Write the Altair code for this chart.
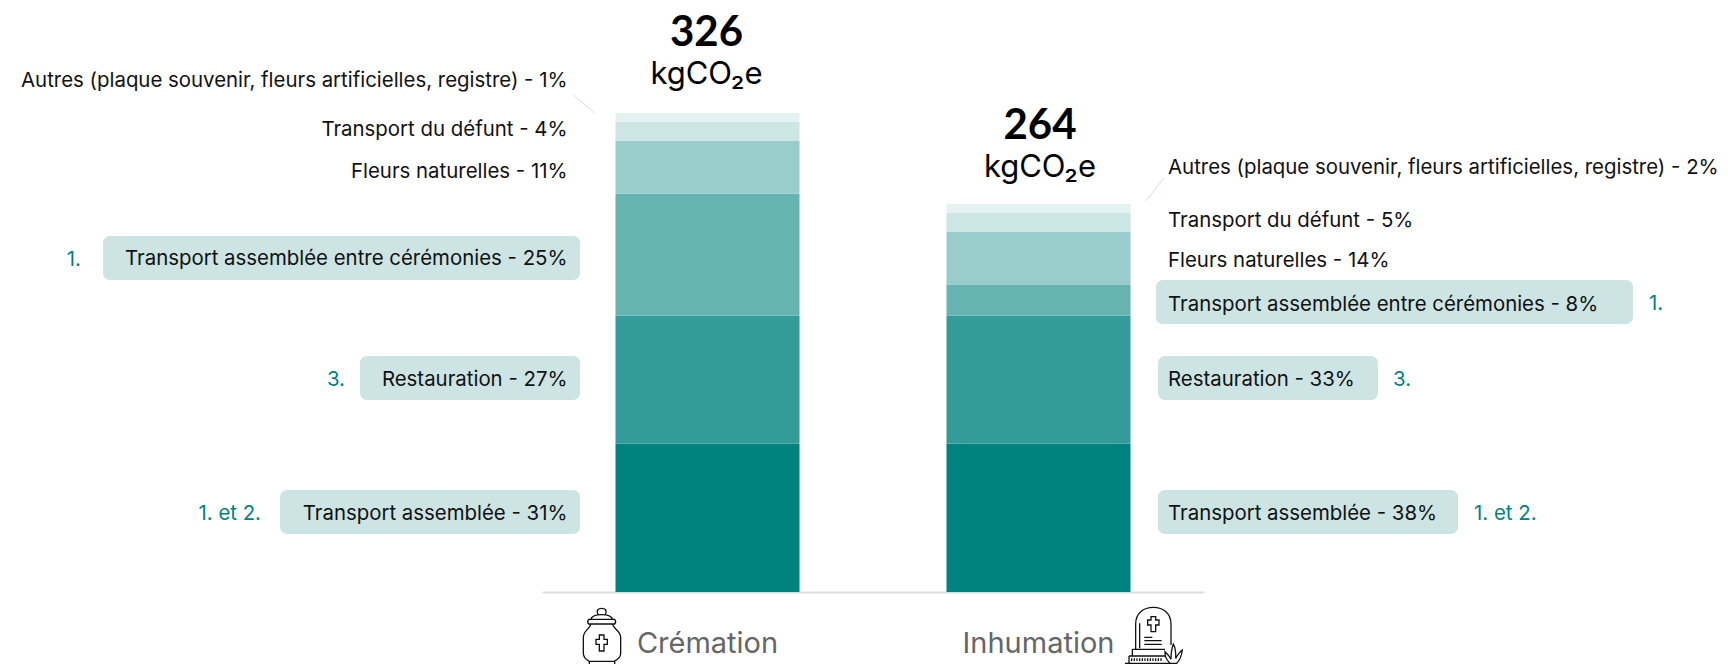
import altair as alt
import pandas as pd

# ---- data ----
methods = ["Crémation", "Inhumation"]
categories = ["Transport assemblée", "Restauration", "Transport assemblée entre cérémonies",
              "Fleurs naturelles", "Transport du défunt", "Autres"]
cremation = [101, 87, 83, 36, 13, 6]
inhumation = [101, 87, 21, 36, 13, 6]
colors = ["#00827F", "#339B99", "#66B4B2", "#99CDCB", "#CCE6E5", "#E5F2F2"]
totals = ["326", "264"]
unit = "kgCO₂e"

left_labels = ["Autres (plaque souvenir, fleurs artificielles, registre) - 1%", "Transport du défunt - 4%",
               "Fleurs naturelles - 11%", "Transport assemblée entre cérémonies - 25%",
               "Restauration - 27%", "Transport assemblée - 31%"]
right_labels = ["Autres (plaque souvenir, fleurs artificielles, registre) - 2%", "Transport du défunt - 5%",
                "Fleurs naturelles - 14%", "Transport assemblée entre cérémonies - 8%",
                "Restauration - 33%", "Transport assemblée - 38%"]
left_label_y = [81, 130, 172, 259, 380, 514]
right_label_y = [168, 221, 261, 305, 380, 514]
pills = [[103, 580, 236, 280], [360, 580, 356, 400], [280, 580, 490, 534],
         [1156, 1633, 280, 324], [1158, 1378, 356, 400], [1158, 1458, 490, 534]]
notes = [["1.", 81, 260, "right"], ["3.", 345, 380, "right"], ["1. et 2.", 261, 514, "right"],
         ["1.", 1649, 304, "left"], ["3.", 1393, 380, "left"], ["1. et 2.", 1474, 514, "left"]]

URN = ("M84 44 C78 30 85 25 95 25 C105 25 112 30 106 44 "
       "M62 58 C66 48 80 44 95 44 C110 44 124 48 128 58 "
       "M56 58 L134 58 Q140 65 134 72 L56 72 Q50 65 56 58 Z "
       "M62 72 C62 85 40 92 40 112 L40 160 C40 172 50 180 58 184 L132 184 C142 180 152 172 152 160 "
       "L152 112 C152 92 128 85 128 72 "
       "M58 184 L58 192 M134 184 L134 192 "
       "M88 105 L102 105 L102 118 L112 118 L112 133 L102 133 L102 153 L88 153 L88 133 L78 133 L78 118 L88 118 Z")
GRAVE = ("M62 148 L62 72 C62 40 85 22 115 22 C145 22 168 40 168 72 L168 135 "
         "M74 70 L74 145 "
         "M108 50 L122 50 L122 60 L132 60 L132 75 L122 75 L122 95 L108 95 L108 75 L98 75 L98 60 L108 60 Z "
         "M88 112 L112 112 M88 122 L140 122 M88 133 L140 133 "
         "M52 148 L150 148 M52 148 L52 168 M42 168 L150 168 M42 168 L42 190 M30 190 L165 190 "
         "M50 175 L50 183 M58 175 L58 183 M66 175 L66 183 M74 175 L74 183 M82 175 L82 183 M90 175 L90 183 "
         "M98 175 L98 183 M106 175 L106 183 M114 175 L114 183 M122 175 L122 183 M130 175 L130 183 M138 175 L138 183 "
         "M165 190 C150 175 150 165 150 155 C160 165 165 170 168 178 C168 160 170 145 175 132 "
         "C182 145 183 160 182 175 C188 165 195 155 202 150 C200 165 195 180 185 190 Z")

M = 8
FONT = "Inter"
SIZE = 20.4
W, H = 1712, 584
TEAL = "#00827F"

rows = []
for m, vals in zip(methods, [cremation, inhumation]):
    base = 0
    for i, (c, v) in enumerate(zip(categories, vals)):
        rows.append({"method": m, "cat": c, "order": i, "y0": base, "y1": base + v})
        base += v
df = pd.DataFrame(rows)

x = alt.X("method:N", sort=methods,
          scale=alt.Scale(domain=methods, range=[542 - M, 1204 - M], paddingInner=0.444, paddingOuter=0.222),
          axis=alt.Axis(title=None, labelAngle=0, labelFont=FONT, labelFontSize=29, labelColor="#666666",
                        labelPadding=37, ticks=False, domainColor="#DDDDDD", domainWidth=2, grid=False))
y = alt.Y("y0:Q", scale=alt.Scale(domain=[0, 326], range=[592 - M, 113 - M]), axis=None)

bars = alt.Chart(df).mark_bar().encode(
    x=x, y=y, y2="y1:Q",
    color=alt.Color("cat:N", sort=categories, scale=alt.Scale(domain=categories, range=colors), legend=None),
)

layers = [bars]
one = pd.DataFrame({"a": [0]})

for x0, x1, y0, y1 in pills:
    layers.append(alt.Chart(one).mark_bar(color="#CCE5E4", cornerRadius=7).encode(
        x=alt.value(x0 - M), x2=alt.value(x1 - M), y=alt.value(y0 - M), y2=alt.value(y1 - M)))


def text(label, px, py, size=SIZE, color="#111111", align="center", weight="normal", font=FONT):
    return alt.Chart(pd.DataFrame({"t": [label]})).mark_text(
        font=font, fontSize=size, color=color, align=align, baseline="middle", fontWeight=weight
    ).encode(text="t:N", x=alt.value(px - M), y=alt.value(py - M))


for lab, py in zip(left_labels, left_label_y):
    layers.append(text(lab, 567.5, py, align="right"))
for lab, py in zip(right_labels, right_label_y):
    layers.append(text(lab, 1168, py, align="left"))
for lab, px, py, al in notes:
    layers.append(text(lab, px, py, color=TEAL, align=al))

for total, px, y_total, y_unit in zip(totals, [706.5, 1040], [33, 126], [75, 168]):
    layers.append(text(total, px, y_total, size=42, color="#000000", weight="bold", font="Lato"))
    layers.append(text(unit, px, y_unit, size=31, color="#000000"))

for x0, x1, y0, y1 in [[573, 595, 95, 113], [1164, 1146, 178, 201]]:
    layers.append(alt.Chart(one).mark_rule(color="#CCE5E4", strokeWidth=1).encode(
        x=alt.value(x0 - M), x2=alt.value(x1 - M), y=alt.value(y0 - M), y2=alt.value(y1 - M)))

# icons: path units are a third of a pixel, so the symbol size is (2/3)**2
for path, ox, oy in [(URN, 570, 600), (GRAVE, 1115, 600)]:
    layers.append(alt.Chart(one).mark_point(shape=path, filled=False, stroke="#111111", strokeWidth=1.3,
                                            opacity=1, size=4 / 9).encode(
        x=alt.value(ox - M), y=alt.value(oy - M)))

chart = alt.layer(*layers).properties(width=W, height=H, padding=0).configure_view(stroke=None)
chart.save("out.html", embed_options={"renderer": "svg", "actions": False})
